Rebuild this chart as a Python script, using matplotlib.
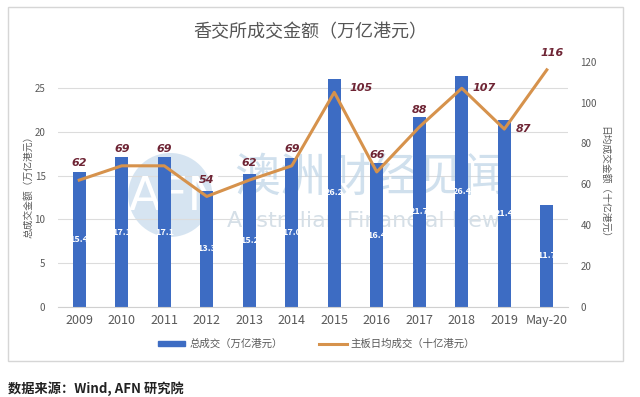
import matplotlib.pyplot as plt
import matplotlib.patches as mpatches
from matplotlib.lines import Line2D
import numpy as np

plt.rcParams['font.family'] = ['Noto Sans CJK SC', 'DejaVu Sans']

# data
years = ['2009', '2010', '2011', '2012', '2013', '2014', '2015', '2016',
         '2017', '2018', '2019', 'May-20']
total_turnover = [15.4, 17.1, 17.1, 13.3, 15.2, 17.0, 26.1, 16.4, 21.7, 26.4, 21.4, 11.7]
total_labels = ['15.4', '17.1', '17.1', '13.3', '15.2', '17.0', '26.2', '16.4',
                '21.7', '26.4', '21.4', '11.7']
daily_avg = [62, 69, 69, 54, 62, 69, 105, 66, 88, 107, 87, 116]

bar_color = '#3d6cc3'
line_color = '#d6924c'
label_red = '#6e2434'
gray = '#595959'

fig = plt.figure(figsize=(6.4, 3.97), dpi=100)
ax = fig.add_axes([0.0906, 0.2275, 0.797, 0.6171])
ax2 = ax.twinx()

x = np.arange(len(years))

# watermark (behind the bars)
ax.add_patch(mpatches.Ellipse((0.22, 0.456), 0.165, 0.343, transform=ax.transAxes,
                              color='#c9dced', alpha=0.75, zorder=0.5, lw=0))
ax.text(0.231, 0.444, 'AFN', transform=ax.transAxes, fontsize=34, color='white',
        ha='center', va='center', family='DejaVu Sans', zorder=0.6)
ax.text(0.616, 0.525, '澳洲财经见闻', transform=ax.transAxes, fontsize=33,
        color='#bcd3e6', alpha=0.7, ha='center', va='center', zorder=0.6)
ax.text(0.61, 0.35, 'Australian Financial News', transform=ax.transAxes, fontsize=16,
        color='#d5dfe7', ha='center', va='center', family='DejaVu Sans', zorder=0.6)

bars = ax.bar(x, total_turnover, width=0.31, color=bar_color, zorder=2)
ax.bar_label(bars, labels=total_labels, label_type='center', color='white',
             fontsize=6.5, style='italic', fontweight='bold')

ax.set_xlim(-0.5, len(years) - 0.5)
ax.set_ylim(0, 28.06)
ax.set_yticks([0, 5, 10, 15, 20, 25])
ax.set_xticks(x)
ax.set_xticklabels(years, fontsize=9, color=gray)
ax.grid(axis='y', color='#dcdcdc', lw=0.8, zorder=0)
ax.set_axisbelow(True)
ax.tick_params(axis='y', labelsize=7, colors=gray, length=0, pad=9)
ax.tick_params(axis='x', length=0, pad=5)
for s in ['top', 'right', 'left']:
    ax.spines[s].set_visible(False)
ax.spines['bottom'].set_color('#d0d0d0')
ax.set_ylabel('总成交金额（万亿港元）', fontsize=7, color=gray, labelpad=1)

ax2.plot(x, daily_avg, color=line_color, lw=2.2, zorder=3)
ax2.set_ylim(0, 120)
ax2.set_yticks(range(0, 121, 20))
ax2.tick_params(axis='y', labelsize=7, colors=gray, length=0, pad=9)
for s in ['top', 'right', 'left', 'bottom']:
    ax2.spines[s].set_visible(False)
ax2.set_ylabel('日均成交金额（十亿港元）', fontsize=7, color=gray, rotation=270, labelpad=9)

offsets = {6: (19, 3), 9: (16, 0), 10: (14, 0), 11: (4, 12)}
for i, v in enumerate(daily_avg):
    dx, dy = offsets.get(i, (0, 12))
    ax2.annotate(str(v), (x[i], v), xytext=(dx, dy), textcoords='offset points',
                 ha='center', va='center', fontsize=8, style='italic',
                 fontweight='bold', color=label_red, family='DejaVu Sans')

handles = [mpatches.Patch(color=bar_color),
           Line2D([0], [0], color=line_color, lw=2.2)]
leg = fig.legend(handles, ['总成交（万亿港元）', '主板日均成交（十亿港元）'],
                 loc='center', bbox_to_anchor=(0.495, 0.134), ncol=2, frameon=False,
                 fontsize=7.5, handlelength=2.6, handleheight=0.35, columnspacing=3.5,
                 handletextpad=0.4)
for t in leg.get_texts():
    t.set_color(gray)

fig.text(0.485, 0.919, '香交所成交金额（万亿港元）', ha='center', va='center',
         fontsize=13, color='#555555')

# outer frame
fig.patches.append(mpatches.Rectangle((0.0125, 0.0907), 0.961, 0.8917,
                                      transform=fig.transFigure, fill=False,
                                      edgecolor='#d6d6d6', lw=1))

fig.text(0.0125, 0.02, '数据来源：Wind, AFN 研究院', ha='left', va='center',
         fontsize=9.5, fontweight='bold', color='#222222')

fig.savefig('out.png', dpi=100)
